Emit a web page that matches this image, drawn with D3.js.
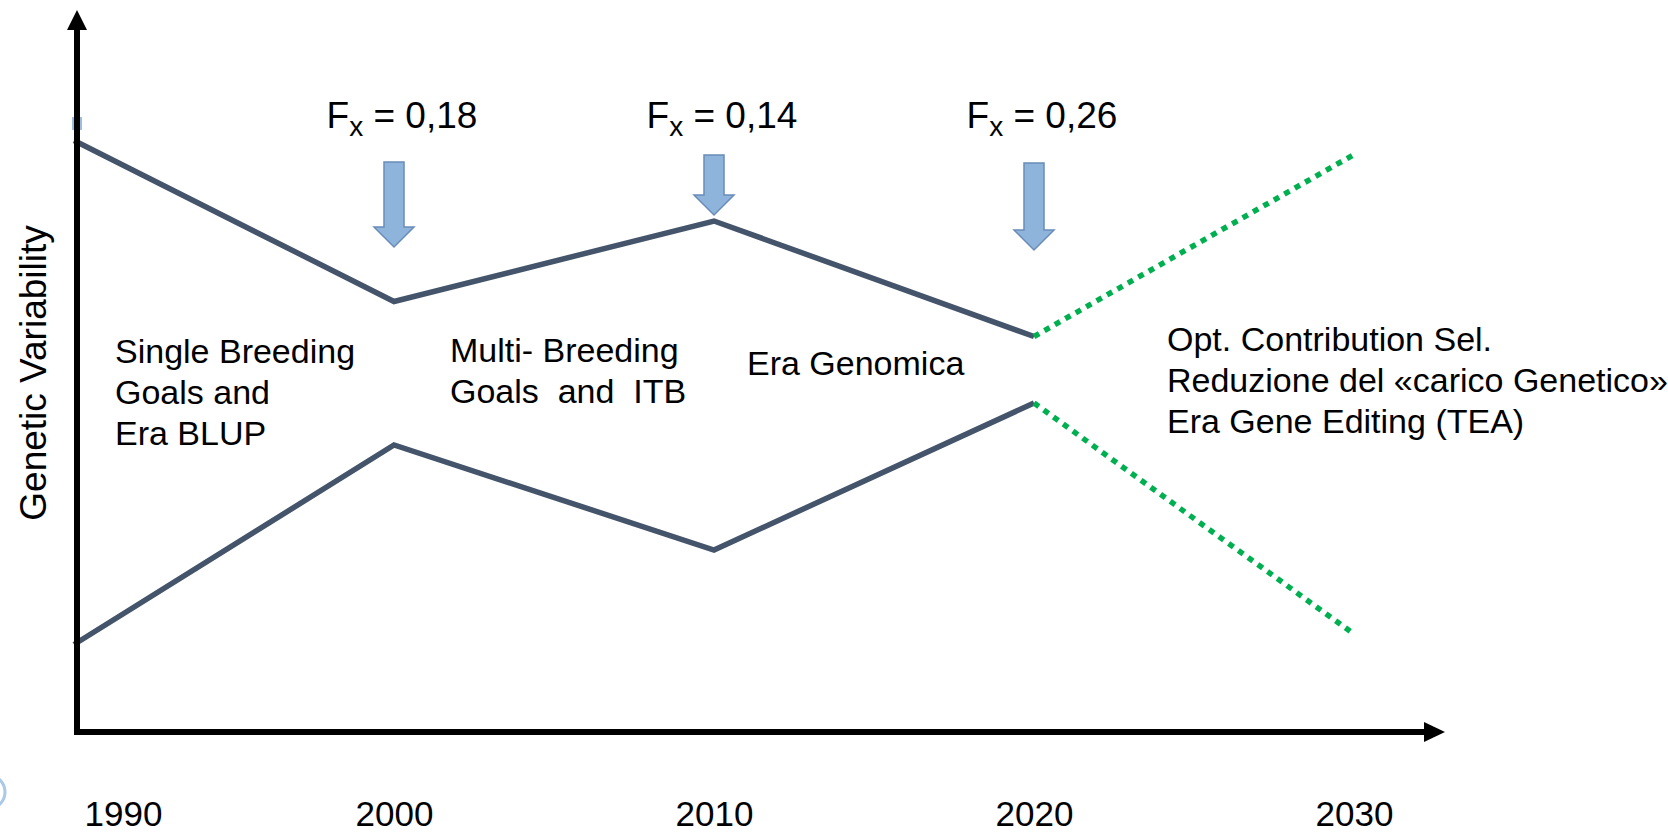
<!DOCTYPE html>
<html>
<head>
<meta charset="utf-8">
<script src="https://cdn.jsdelivr.net/npm/d3@7"></script>
<style>
  body { margin: 0; background: #fff; }
  text { font-family: "Liberation Sans", Arial, sans-serif; fill: #000; }
</style>
</head>
<body>
<div id="chart"></div>
<script>
// time axis
var years = [1990, 2000, 2010, 2020, 2030];

// edges of the genetic variability band, 1990-2020
var pastYears = [1990, 2000, 2010, 2020];
var upperPast = [84.5, 61.5, 73, 56.5];
var lowerPast = [12.5, 41, 26, 47];

// projection 2020-2030 (dotted green)
var futureYears = [2020, 2030];
var upperFuture = [56.5, 82.5];
var lowerFuture = [47, 14];

// inbreeding markers
var fxYears = [2000, 2010, 2020];
var fxValues = ["0,18", "0,14", "0,26"];

// era labels
var eraLabels = [
    ["Single Breeding", "Goals and", "Era BLUP"],
    ["Multi- Breeding", "Goals  and  ITB"],
    ["Era Genomica"],
    ["Opt. Contribution Sel.", "Reduzione del \u00abcarico Genetico\u00bb", "Era Gene Editing (TEA)"]
];
var yTitle = "Genetic Variability";

// ---- layout ----
var width = 1668, height = 834;
var axisX = 77, axisY = 732;
var eraPos = [{ x: 115, y: 363 }, { x: 450, y: 362 }, { x: 747, y: 375 }, { x: 1167, y: 351 }];
var arrowTop = [162, 155, 163], arrowTip = [247, 215, 250];

var svg = d3.select("#chart").append("svg")
    .attr("width", width)
    .attr("height", height);

svg.append("rect").attr("width", width).attr("height", height).attr("fill", "#fff");

var x = d3.scaleLinear().domain([1990, 2030]).range([74, 1354]);
var y = d3.scaleLinear().domain([0, 100]).range([axisY, 32]);

var line = d3.line().x(d => x(d[0])).y(d => y(d[1]));

// small leftover shapes of the original slide
svg.append("rect").attr("x", 72).attr("y", 117).attr("width", 10).attr("height", 13)
    .attr("fill", "#9dbde0");
svg.append("circle").attr("cx", -12).attr("cy", 792).attr("r", 17)
    .attr("fill", "none").attr("stroke", "#a9c8ea").attr("stroke-width", 3);

// band edges
[upperPast, lowerPast].forEach(function (vals) {
    svg.append("path")
        .datum(d3.zip(pastYears, vals))
        .attr("d", line)
        .attr("fill", "none")
        .attr("stroke", "#44546a")
        .attr("stroke-width", 5.5)
        .attr("stroke-linejoin", "miter");
});

[upperFuture, lowerFuture].forEach(function (vals) {
    svg.append("path")
        .datum(d3.zip(futureYears, vals))
        .attr("d", line)
        .attr("fill", "none")
        .attr("stroke", "#00b050")
        .attr("stroke-width", 5.5)
        .attr("stroke-dasharray", "6,6");
});

// axes with arrow heads
svg.append("line")
    .attr("x1", axisX).attr("y1", axisY + 3)
    .attr("x2", axisX).attr("y2", 28)
    .attr("stroke", "#000").attr("stroke-width", 6);
svg.append("path")
    .attr("d", `M${axisX},10 L${axisX + 10},30 L${axisX - 10},30 Z`)
    .attr("fill", "#000");

svg.append("line")
    .attr("x1", axisX - 3).attr("y1", axisY)
    .attr("x2", 1426).attr("y2", axisY)
    .attr("stroke", "#000").attr("stroke-width", 6);
svg.append("path")
    .attr("d", `M1445,${axisY} L1424,${axisY - 10} L1424,${axisY + 10} Z`)
    .attr("fill", "#000");

// year labels
var xAxis = svg.append("g")
    .attr("transform", `translate(0, ${axisY})`)
    .call(d3.axisBottom(x).tickValues(years).tickFormat(d3.format("d")).tickSize(0));
xAxis.select(".domain").remove();
xAxis.selectAll("text")
    .attr("y", 94)
    .attr("dy", 0)
    .style("font-family", "Liberation Sans, Arial, sans-serif")
    .style("font-size", "35px")
    .attr("fill", "#000");
xAxis.selectAll("text").filter(d => d === 1990)
    .attr("text-anchor", "start")
    .attr("x", 10);

// y title
svg.append("text")
    .attr("transform", "translate(46, 373) rotate(-90)")
    .attr("text-anchor", "middle")
    .style("font-size", "37px")
    .text(yTitle);

// inbreeding arrows
svg.selectAll(".fx-arrow")
    .data(fxYears)
    .enter().append("path")
    .attr("class", "fx-arrow")
    .attr("d", function (d, i) {
        var cx = x(d), t = arrowTop[i], p = arrowTip[i];
        return `M${cx - 10},${t} L${cx + 10},${t} L${cx + 10},${p - 20} L${cx + 20},${p - 20} ` +
            `L${cx},${p} L${cx - 20},${p - 20} L${cx - 10},${p - 20} Z`;
    })
    .attr("fill", "#8eb4dc")
    .attr("stroke", "#6a8cb8")
    .attr("stroke-width", 1.5);

var fx = svg.selectAll(".fx-label")
    .data(fxYears)
    .enter().append("text")
    .attr("class", "fx-label")
    .attr("x", d => x(d) + 8)
    .attr("y", 128)
    .attr("text-anchor", "middle")
    .style("font-size", "37px");
fx.append("tspan").text("F");
fx.append("tspan").attr("dy", 8).style("font-size", "28px").text("x");
fx.append("tspan").attr("dy", -8).text((d, i) => " = " + fxValues[i]);

// era labels
eraLabels.forEach(function (lines, i) {
    var t = svg.append("text")
        .attr("x", eraPos[i].x)
        .attr("y", eraPos[i].y)
        .style("font-size", "34px")
        .style("white-space", "pre");
    lines.forEach(function (s, j) {
        t.append("tspan")
            .attr("x", eraPos[i].x)
            .attr("dy", j === 0 ? 0 : 41)
            .text(s);
    });
});
</script>
</body>
</html>
